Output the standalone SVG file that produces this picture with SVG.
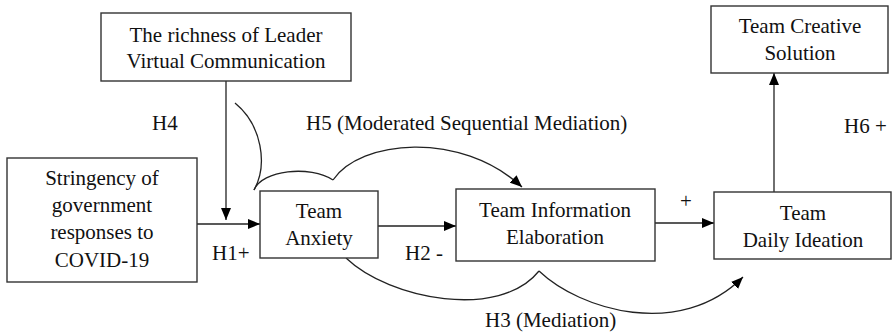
<svg xmlns="http://www.w3.org/2000/svg" width="892" height="334" viewBox="0 0 892 334">
<style>
.box{fill:#fff;stroke:#333;stroke-width:1.4}
.t{font-size:21px;fill:#111;text-anchor:middle}
.l{font-size:21px;fill:#111}
.c{fill:none;stroke:#222;stroke-width:1.3}
</style>
<defs>
<marker id="ah" viewBox="0 0 12 10" refX="12" refY="5" markerWidth="12" markerHeight="10" markerUnits="userSpaceOnUse" orient="auto">
<path d="M0,0 L12,5 L0,10 Z" fill="#000"/>
</marker>
</defs>
<g id="connectors">
<line class="c" x1="226" y1="81" x2="226" y2="220" marker-end="url(#ah)"/>
<line class="c" x1="195" y1="224" x2="260" y2="224" marker-end="url(#ah)"/>
<line class="c" x1="378" y1="226" x2="456" y2="226" marker-end="url(#ah)"/>
<line class="c" x1="655" y1="223" x2="714" y2="223" marker-end="url(#ah)"/>
<line class="c" x1="774" y1="192" x2="774" y2="73" marker-end="url(#ah)"/>
<path class="c" d="M235,103 C262,125 268,165 254,190"/>
<path class="c" d="M254,190 C262,170 310,165 333,180"/>
<path class="c" d="M333,180 C360,140 460,130 522,187" marker-end="url(#ah)"/>
<path class="c" d="M346,258 C390,300 500,320 539,271"/>
<path class="c" d="M539,271 C580,310 680,340 743,277" marker-end="url(#ah)"/>
</g>
<g font-family="Liberation Serif, Times New Roman, serif">
<g id="leader">
<rect class="box" x="101" y="13" width="250" height="68"/>
<text class="t" x="226" y="42">The richness of Leader</text>
<text class="t" x="226" y="68">Virtual Communication</text>
</g>
<g id="stringency">
<rect class="box" x="7" y="158" width="190" height="124"/>
<text class="t" x="102" y="185">Stringency of</text>
<text class="t" x="102" y="212">government</text>
<text class="t" x="102" y="239">responses to</text>
<text class="t" x="102" y="267">COVID-19</text>
</g>
<g id="anxiety">
<rect class="box" x="260" y="191" width="118" height="67"/>
<text class="t" x="319" y="218">Team</text>
<text class="t" x="319" y="245">Anxiety</text>
</g>
<g id="elaboration">
<rect class="box" x="456" y="189" width="199" height="72"/>
<text class="t" x="555" y="217">Team Information</text>
<text class="t" x="555" y="244">Elaboration</text>
</g>
<g id="ideation">
<rect class="box" x="714" y="192" width="177" height="67"/>
<text class="t" x="803" y="220">Team</text>
<text class="t" x="803" y="247">Daily Ideation</text>
</g>
<g id="creative">
<rect class="box" x="711" y="6" width="177" height="67"/>
<text class="t" x="800" y="33">Team Creative</text>
<text class="t" x="800" y="60">Solution</text>
</g>
<g id="labels">
<text class="l" x="152" y="130">H4</text>
<text class="l" x="306" y="130">H5 (Moderated Sequential Mediation)</text>
<text class="l" x="844" y="133">H6 +</text>
<text class="l" x="212" y="260">H1+</text>
<text class="l" x="405" y="260">H2 -</text>
<text class="l" x="680" y="208">+</text>
<text class="l" x="485" y="327">H3 (Mediation)</text>
</g>
</g>
</svg>
